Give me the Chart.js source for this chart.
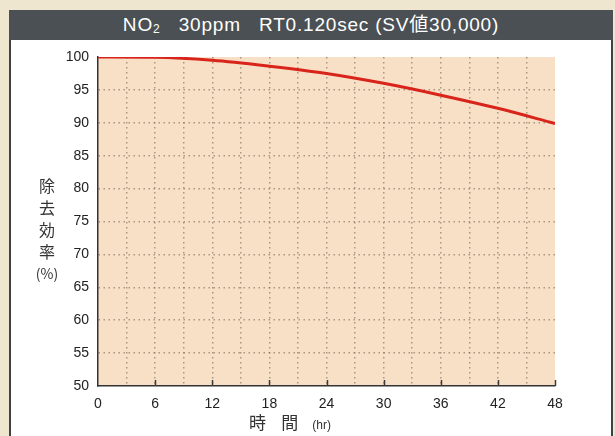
<!DOCTYPE html>
<html>
<head>
<meta charset="utf-8">
<script src="https://cdn.jsdelivr.net/npm/chart.js@4/dist/chart.umd.min.js"></script>
<style>
  body { margin:0; background:#efe6d0; width:615px; height:436px; overflow:hidden; position:relative; font-family:"Liberation Sans", Arial, sans-serif; }
  #panel { position:absolute; left:9px; top:10px; width:600px; height:430px; background:#fff; border-left:2px solid #3d4245; border-right:2px solid #3d4245; }
  #title { position:absolute; left:9px; top:10px; width:604px; height:30px; background:#4a5053; color:#fff; font-size:19px; line-height:30px; text-align:center; font-family:"Liberation Sans", "Noto Sans CJK JP", sans-serif; letter-spacing:0.8px; }
  #title sub { font-size:12px; vertical-align:baseline; position:relative; top:2px; }
  #wrap { position:absolute; left:0; top:0; width:615px; height:436px; }
  .ylab { position:absolute; left:36px; top:174px; width:22px; font-family:"Noto Sans CJK JP", sans-serif; font-size:16px; line-height:22px; color:#333; text-align:center; }
  .ylab span { display:block; }
  .ylab .pct { font-size:14px; margin-left:-6px; width:34px; }
  .xlab { position:absolute; left:249px; top:409px; font-family:"Noto Sans CJK JP", sans-serif; font-size:17px; color:#333; white-space:nowrap; }
  .xlab small { font-family:"Liberation Sans", Arial, sans-serif; font-size:12px; margin-left:14px; }
</style>
</head>
<body>
<div id="panel"></div>
<div id="title">NO<sub>2</sub>&nbsp;&nbsp;&nbsp;30ppm&nbsp;&nbsp;&nbsp;RT0.120sec (SV値30,000)</div>
<div id="wrap"><canvas id="chart_elem" width="615" height="436"></canvas></div>
<div class="ylab"><span>除</span><span>去</span><span>効</span><span>率</span><span class="pct">(%)</span></div>
<div class="xlab">時&nbsp;&nbsp;&nbsp;&nbsp;間<small>(hr)</small></div>
<script>
// hours and removal efficiency
const hours = [0, 6, 12, 18, 24, 30, 36, 42, 48];
const removal = [100, 99.95, 99.5, 98.6, 97.5, 96.0, 94.2, 92.2, 89.9];

const xMin = 0, xMax = 48, xStep = 3, xLabelStep = 6;
const yMin = 50, yMax = 100, yStep = 5;

const points = hours.map((h, i) => ({ x: h, y: removal[i] }));

// peach plot background
const plotBg = {
  id: 'plotBg',
  beforeDraw(chart) {
    const a = chart.chartArea;
    const ctx = chart.ctx;
    ctx.save();
    ctx.fillStyle = '#f8e0c6';
    ctx.fillRect(a.left, a.top, a.right - a.left, a.bottom - a.top);
    ctx.restore();
  }
};

// small inward tick marks on the bottom axis
const innerTicks = {
  id: 'innerTicks',
  afterDatasetsDraw(chart) {
    const xs = chart.scales.x;
    const a = chart.chartArea;
    const ctx = chart.ctx;
    ctx.save();
    ctx.strokeStyle = '#3a3a3a';
    ctx.lineWidth = 1.5;
    for (let v = xLabelStep; v <= xMax; v += xLabelStep) {
      const px = Math.round(xs.getPixelForValue(v)) + 0.5;
      ctx.beginPath();
      ctx.moveTo(px, a.bottom);
      ctx.lineTo(px, a.bottom - 6);
      ctx.stroke();
    }
    ctx.restore();
  }
};

const canvas = document.getElementById('chart_elem');
const ctx = canvas.getContext('2d');

const data = {
  datasets: [{
    data: points,
    borderColor: '#d8241b',
    borderWidth: 3,
    pointRadius: 0,
    cubicInterpolationMode: 'monotone',
    fill: false
  }]
};

const dotted = (c, skip) => (c.tick && skip(c.tick.value)) ? 'rgba(0,0,0,0)' : 'rgba(130,110,90,0.65)';

const config = {
  type: 'line',
  data,
  options: {
    responsive: false,
    animation: false,
    layout: { padding: { top: 57, right: 60, left: 0, bottom: 0 } },
    plugins: { legend: { display: false }, tooltip: { enabled: false } },
    scales: {
      x: {
        type: 'linear',
        min: xMin, max: xMax,
        afterFit(s) { s.height = 50; },
        ticks: {
          stepSize: xStep,
          autoSkip: false,
          maxRotation: 0,
          padding: 10,
          color: '#222',
          font: { family: '"Liberation Sans", Arial, sans-serif', size: 14 },
          callback: v => (v % xLabelStep === 0 ? String(v) : '')
        },
        grid: {
          drawTicks: false,
          lineWidth: 1.5,
          color: c => dotted(c, v => v === xMin || v === xMax)
        },
        border: { display: true, color: '#333', width: 1.5, dash: [1.5, 3.5] }
      },
      y: {
        min: yMin, max: yMax,
        afterFit(s) { s.width = 98; },
        ticks: {
          stepSize: yStep,
          padding: 9,
          color: '#222',
          font: { family: '"Liberation Sans", Arial, sans-serif', size: 14 }
        },
        grid: {
          drawTicks: false,
          lineWidth: 1.5,
          color: c => dotted(c, v => v === yMin || v === yMax)
        },
        border: { display: true, color: '#333', width: 1.5, dash: [1.5, 3.5] }
      }
    }
  },
  plugins: [plotBg, innerTicks]
};

const chart = new Chart(ctx, config);
</script>
</body>
</html>
